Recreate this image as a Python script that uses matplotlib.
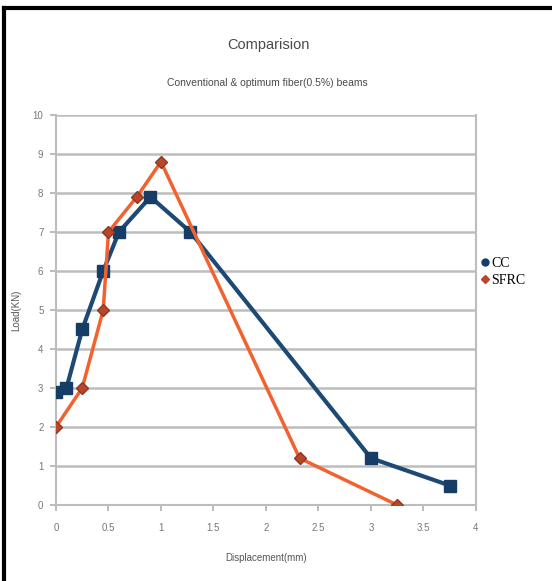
import matplotlib.pyplot as plt
from matplotlib.lines import Line2D

# CC beam (conventional)
cc_disp = [0, 0.1, 0.25, 0.45, 0.6, 0.9, 1.28, 3.0, 3.75]   # mm
cc_load = [2.9, 3.0, 4.5, 6.0, 7.0, 7.9, 7.0, 1.2, 0.5]      # kN

# SFRC beam (optimum fiber 0.5%)
sfrc_disp = [0, 0.25, 0.45, 0.5, 0.77, 1.0, 2.32, 3.25]
sfrc_load = [2.0, 3.0, 5.0, 7.0, 7.9, 8.8, 1.2, 0.0]

x_ticks = [0, 0.5, 1, 1.5, 2, 2.5, 3, 3.5, 4]
x_labels = ['0', '0.5', '1', '1.5', '2', '2.5', '3', '3.5', '4']
y_ticks = list(range(0, 11))

narrow = ['Liberation Sans', 'DejaVu Sans']
grey = '#777777'

fig = plt.figure(figsize=(5.52, 5.81), dpi=100)
ax = fig.add_axes([0.1014, 0.1308, 0.7609, 0.6713])

ax.plot(cc_disp, cc_load, color='#1d4a75', linewidth=3, marker='s',
        markersize=9, markerfacecolor='#163d66', markeredgecolor='#163d66', zorder=3)
ax.plot(sfrc_disp, sfrc_load, color='#f2622f', linewidth=2.5, marker='D',
        markersize=6, markerfacecolor='#b8472a', markeredgecolor='#8a3a24', zorder=4)

ax.set_xlim(0, 4)
ax.set_ylim(0, 10)
ax.set_xticks(x_ticks)
ax.set_xticklabels(x_labels, family=narrow, fontsize=7, color=grey)
ax.set_yticks(y_ticks)
ax.set_yticklabels([str(v) for v in y_ticks], family=narrow, fontsize=7, color=grey)
ax.tick_params(axis='both', colors='#b0b0b0', length=4, width=1.2, labelcolor=grey)
ax.tick_params(axis='x', pad=9)
ax.tick_params(axis='y', pad=5)
ax.yaxis.grid(True, color='#bdbdbd', linewidth=1.8)
ax.set_axisbelow(True)
for s in ax.spines.values():
    s.set_color('#bdbdbd')
    s.set_linewidth(1.5)
ax.spines['top'].set_visible(False)

ax.set_xlabel('Displacement(mm)', family=narrow, fontsize=7, color='#555555', labelpad=14)
ax.set_ylabel('Load(KN)', family=narrow, fontsize=7, color='#555555', labelpad=8)

fig.text(0.487, 0.922, 'Comparision', ha='center', va='center',
         family=narrow, fontsize=10.5, color='#4a4a4a')
fig.text(0.485, 0.857, 'Conventional & optimum fiber(0.5%) beams', ha='center', va='center',
         family=narrow, fontsize=7.5, color='#4a4a4a')

handles = [Line2D([], [], linestyle='none', marker='o', markersize=5, color='#163d66'),
           Line2D([], [], linestyle='none', marker='D', markersize=4.5, color='#b8472a')]
fig.legend(handles, ['CC', 'SFRC'], loc='upper left', bbox_to_anchor=(0.85, 0.58),
           frameon=False, handlelength=0.5, handletextpad=0.2, labelspacing=0.3,
           prop={'family': 'Liberation Serif', 'size': 10})

# black border at left and top
fig.add_artist(Line2D([0.008, 0.008], [0, 0.986], color='black', linewidth=3))
fig.add_artist(Line2D([0.008, 1.0], [0.986, 0.986], color='black', linewidth=3))

fig.savefig('out.png', dpi=100)
